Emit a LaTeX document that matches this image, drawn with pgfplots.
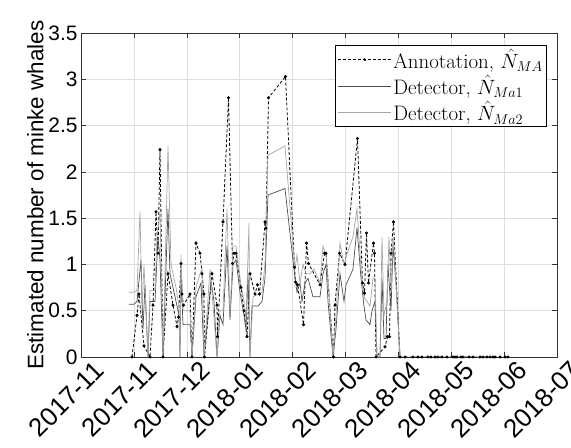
\documentclass[border=0pt]{standalone}
\usepackage{pgfplots}
\pgfplotsset{compat=1.18}
\usepackage{pgfplotstable}
\usepackage{fontspec}
\newfontfamily\arial{Liberation Sans}

\pgfplotstableread{
x y
132 0
137 0.45
139 0.68
144 0.12
150 0
153 0.56
156 1.57
158 1.12
160 2.24
163 0
168 0.9
173 0.56
177 0.33
178.5 0.43
181 1.01
182 0.68
183.5 0.56
190 0.68
192 0
196 1.23
200 1.12
202 0.9
204 0.68
204.5 0
212 0.9
217 0.56
217.5 0.22
223 1.46
228.5 2.80
232.5 1.01
234 1.12
236 1.12
241 0.75
244 0.5
247 0.22
250 0.9
255 0.68
257.5 0.78
259.5 0.68
265 1.46
266 1.39
268.5 2.80
285.5 3.03
294.5 0.97
295.5 0.81
297.5 0.78
303.5 0.35
306.5 1.23
308.5 1.01
320 0.78
324.5 1.12
326 1.12
333.5 0
335 0.56
339.5 1.12
345 1.0
357.5 2.36
362.5 0.8
364.5 0.69
366.5 1.34
368.5 0.8
373.5 1.23
374.5 1.12
376 0
385 0.11
387.5 0.22
389.5 0.22
391 1.12
393.5 1.46
400 0
405 0
413 0
418 0
422 0
428 0
431 0
435 0
438 0
442 0
447 0
453 0
455 0
457 0
461 0
463 0
469 0
473 0
480 0
483 0
487 0
490 0
493 0
495 0
500 0
505 0
508 0
}\annot

\pgfplotstableread{
x y
129 0.57
134 0.57
137 0.6
141 1.05
143 0.3
145 0.78
148 0
150 0.6
155 0.6
158 1.3
160 1.05
163 0
168 1.6
170 0.9
176 0.6
179 0.45
180 0
181 0.9
183 0.35
190 0.35
192 0
196 0.65
201 0.8
204 0
211 0.82
214 0.6
217 0
220 0.45
223 0.35
227 1.2
230 0.4
233 1.0
236 1.05
240 0.7
244 0.45
246 0.3
248 0.9
250 0
252 0.55
258 0.55
262 0.6
265 0.85
268 1.75
285 1.82
295 0.85
297 0.7
300 0.8
302 0.6
305 0.8
308 0.85
313 0.65
320 0.65
323 0.9
326 1.0
328 0.6
333 0
336 0.3
340 0.9
344 0.6
346 0.78
353 0.95
357 1.4
361 0.85
364 0.55
366 0.4
370 0.35
372 0.5
375 0.6
377 0
380 0
382 0.85
384 0.2
386 0.2
388 1.0
391 0.5
393 1.2
396 0.8
400 0
}\detA

\pgfplotstableread{
x y
129 0.7
134 0.7
137 0.72
140 1.57
142 0.5
144 1.0
148 0
150 0.72
155 0.72
157 1.3
160 1.57
163 0
168 2.28
171 1.0
176 0.75
179 0.55
180 0
181 1.1
183 0.5
190 0.5
192 0
196 0.75
200 0.9
202 0.95
204 0
210 0.95
212 0.7
217 0
220 0.5
223 0.5
227 1.6
230 0.45
233 1.2
236 1.2
240 0.85
244 0.6
246 0.4
249 1.45
250 0
253 0.65
262 0.7
265 1.0
268 2.18
285 2.28
295 0.95
297 1.1
300 0.8
303 1.0
306 0.9
310 0.9
314 0.95
320 0.8
323 1.2
326 1.1
329 0.7
333 0
336 0.45
340 1.23
344 1.0
346 1.08
353 1.3
357 1.6
361 0.95
364 0.65
367 0.6
370 0.55
373 0.85
375 0.85
377 0
380 0
382 1.3
384 0.45
387 0.6
389 1.3
391 0.7
393 1.3
395 1.0
400 0
}\detB

\begin{document}
\begin{tikzpicture}
\begin{axis}[
  at={(0,0)}, anchor=south west,
  scale only axis,
  width=476bp, height=324bp,
  xmin=81, xmax=557,
  ymin=0, ymax=3.5,
  xtick={81,133.9,186.8,239.7,292.6,345.4,398.3,451.2,504.1,557},
  xticklabels={2017-11,2017-11,2017-12,2018-01,2018-02,2018-03,2018-04,2018-05,2018-06,2018-07},
  ytick={0,0.5,1,1.5,2,2.5,3,3.5},
  yticklabels={0,0.5,1,1.5,2,2.5,3,3.5},
  x tick label style={font=\arial\fontsize{26}{28}\selectfont, xshift=12bp, yshift=-1bp, rotate=45, anchor=north east, inner sep=1pt},
  y tick label style={font=\arial\fontsize{21}{24}\selectfont},
  ylabel={Estimated number of minke whales},
  ylabel style={font=\arial\fontsize{22.5}{25}\selectfont, yshift=-2bp},
  grid=major,
  major grid style={draw=black!13, line width=0.6pt},
  axis line style={draw=black!80, line width=0.6pt},
  tick align=inside,
  tick style={draw=black!80, line width=0.6pt},
  major tick length=5bp,
  xtick pos=both, ytick pos=both,
  legend style={at={(0.979,0.963)}, anchor=north east, draw=black, line width=0.6pt,
    font=\fontsize{21}{24}\selectfont, cells={anchor=west}, row sep=1pt, inner sep=2pt},
  legend image code/.code={\draw[#1] (0bp,0bp) -- (53bp,0bp);},
]
\addplot[black, line width=0.8pt, dash pattern=on 3pt off 2pt, mark=*, mark size=1.1pt,
  mark options={solid}, legend image code/.code={\draw[black, line width=0.8pt, dash pattern=on 3pt off 2pt] (0bp,0bp) -- (53bp,0bp); \fill[black] (26.5bp,0bp) circle (1.1pt);}]
  table[x=x,y=y]{\annot};
\addlegendentry{Annotation, $\hat{N}_{MA}$}
\addplot[black!70, line width=0.7pt] table[x=x,y=y]{\detA};
\addlegendentry{Detector, $\hat{N}_{Ma1}$}
\addplot[black!35, line width=0.7pt] table[x=x,y=y]{\detB};
\addlegendentry{Detector, $\hat{N}_{Ma2}$}
\end{axis}
\pgfresetboundingbox
\useasboundingbox (-81bp,-91bp) rectangle (490bp,357bp);
\end{tikzpicture}
\end{document}
